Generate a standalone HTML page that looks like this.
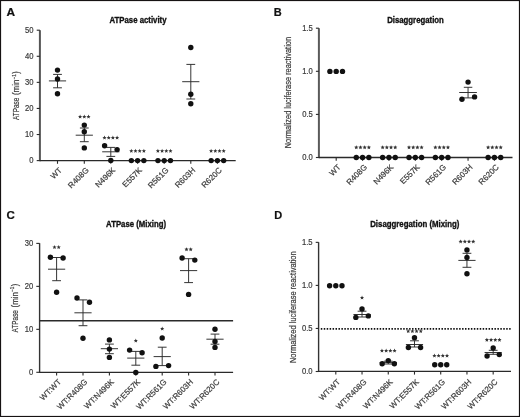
<!DOCTYPE html><html><head><meta charset="utf-8"><style>html,body{margin:0;padding:0;background:#fff;}svg{display:block;will-change:transform;}text{font-family:"Liberation Sans",sans-serif;}.g{fill:#3a3a3a;stroke:#3a3a3a;stroke-width:0.2;}</style></head><body>
<svg width="520" height="417" viewBox="0 0 520 417">
<rect x="0" y="0" width="520" height="417" fill="#fff"/>
<rect x="0.5" y="0.5" width="519" height="416" fill="none" stroke="#161213" stroke-width="1.2"/>
<text transform="translate(6.6,15.9) scale(1.08,1)" font-size="11" font-weight="bold" fill="#111" stroke="#111" stroke-width="0.2">A</text>
<text transform="translate(273.8,15.8) scale(1.0,1)" font-size="11" font-weight="bold" fill="#111" stroke="#111" stroke-width="0.2">B</text>
<text transform="translate(6.5,219.2) scale(1.05,1)" font-size="11" font-weight="bold" fill="#111" stroke="#111" stroke-width="0.2">C</text>
<text transform="translate(274.2,219.2) scale(1.0,1)" font-size="11" font-weight="bold" fill="#111" stroke="#111" stroke-width="0.2">D</text>
<text transform="translate(109.5,22.6) scale(1,1.12)" font-size="7.8" font-weight="bold" fill="#111" stroke="#111" stroke-width="0.3" textLength="57" lengthAdjust="spacingAndGlyphs">ATPase activity</text>
<text transform="translate(387.2,23.0) scale(1,1.12)" font-size="7.8" font-weight="bold" fill="#111" stroke="#111" stroke-width="0.3" textLength="56.6" lengthAdjust="spacingAndGlyphs">Disaggregation</text>
<text transform="translate(106.1,226.5) scale(1,1.12)" font-size="7.8" font-weight="bold" fill="#111" stroke="#111" stroke-width="0.3" textLength="60" lengthAdjust="spacingAndGlyphs">ATPase (Mixing)</text>
<text transform="translate(370.2,226.8) scale(1,1.12)" font-size="7.8" font-weight="bold" fill="#111" stroke="#111" stroke-width="0.3" textLength="89.2" lengthAdjust="spacingAndGlyphs">Disaggregation (Mixing)</text>
<text transform="translate(19.2,120.0) rotate(-90)" font-size="8.6" class="g" textLength="22.3" lengthAdjust="spacingAndGlyphs">ATPase</text><text transform="translate(19.2,95.1) rotate(-90)" font-size="8.6" class="g" textLength="15.4" lengthAdjust="spacingAndGlyphs">(min</text><text transform="translate(15.6,79.5) rotate(-90)" font-size="5.6" class="g" textLength="5.2" lengthAdjust="spacingAndGlyphs">−1</text><text transform="translate(19.2,73.8) rotate(-90)" font-size="8.6" class="g" textLength="2.4" lengthAdjust="spacingAndGlyphs">)</text>
<text transform="translate(18.0,332.4) rotate(-90)" font-size="8.6" class="g" textLength="22.3" lengthAdjust="spacingAndGlyphs">ATPase</text><text transform="translate(18.0,307.5) rotate(-90)" font-size="8.6" class="g" textLength="15.4" lengthAdjust="spacingAndGlyphs">(min</text><text transform="translate(14.4,291.9) rotate(-90)" font-size="5.6" class="g" textLength="5.2" lengthAdjust="spacingAndGlyphs">−1</text><text transform="translate(18.0,286.2) rotate(-90)" font-size="8.6" class="g" textLength="2.4" lengthAdjust="spacingAndGlyphs">)</text>
<text transform="translate(291.2,92.6) rotate(-90)" text-anchor="middle" font-size="8.4" class="g" textLength="111.3" lengthAdjust="spacingAndGlyphs">Normalized luciferase reactivation</text>
<text transform="translate(295.5,307.2) rotate(-90)" text-anchor="middle" font-size="8.4" class="g" textLength="111.7" lengthAdjust="spacingAndGlyphs">Normalized luciferase reactivation</text>
<line x1="39.9" y1="30.2" x2="39.9" y2="161.25" stroke="#555" stroke-width="2"/><line x1="39.9" y1="160.6" x2="235.7" y2="160.6" stroke="#2a2a2a" stroke-width="1.3"/><line x1="36.7" y1="160.6" x2="39.9" y2="160.6" stroke="#2a2a2a" stroke-width="1.1"/><text x="33.6" y="163.2" text-anchor="end" font-size="8.5" class="g" textLength="4.25" lengthAdjust="spacingAndGlyphs">0</text><line x1="36.7" y1="134.51999999999998" x2="39.9" y2="134.51999999999998" stroke="#2a2a2a" stroke-width="1.1"/><text x="33.6" y="137.11999999999998" text-anchor="end" font-size="8.5" class="g" textLength="8.51" lengthAdjust="spacingAndGlyphs">10</text><line x1="36.7" y1="108.44" x2="39.9" y2="108.44" stroke="#2a2a2a" stroke-width="1.1"/><text x="33.6" y="111.03999999999999" text-anchor="end" font-size="8.5" class="g" textLength="8.51" lengthAdjust="spacingAndGlyphs">20</text><line x1="36.7" y1="82.35999999999999" x2="39.9" y2="82.35999999999999" stroke="#2a2a2a" stroke-width="1.1"/><text x="33.6" y="84.95999999999998" text-anchor="end" font-size="8.5" class="g" textLength="8.51" lengthAdjust="spacingAndGlyphs">30</text><line x1="36.7" y1="56.27999999999999" x2="39.9" y2="56.27999999999999" stroke="#2a2a2a" stroke-width="1.1"/><text x="33.6" y="58.87999999999999" text-anchor="end" font-size="8.5" class="g" textLength="8.51" lengthAdjust="spacingAndGlyphs">40</text><line x1="36.7" y1="30.19999999999999" x2="39.9" y2="30.19999999999999" stroke="#2a2a2a" stroke-width="1.1"/><text x="33.6" y="32.79999999999999" text-anchor="end" font-size="8.5" class="g" textLength="8.51" lengthAdjust="spacingAndGlyphs">50</text><line x1="57.5" y1="160.6" x2="57.5" y2="163.79999999999998" stroke="#2a2a2a" stroke-width="1.1"/><text transform="translate(62.50,170.70) rotate(-45)" text-anchor="end" font-size="8.0" class="g">WT</text><line x1="84.3" y1="160.6" x2="84.3" y2="163.79999999999998" stroke="#2a2a2a" stroke-width="1.1"/><text transform="translate(89.30,170.70) rotate(-45)" text-anchor="end" font-size="8.0" class="g">R408G</text><line x1="110.8" y1="160.6" x2="110.8" y2="163.79999999999998" stroke="#2a2a2a" stroke-width="1.1"/><text transform="translate(115.80,170.70) rotate(-45)" text-anchor="end" font-size="8.0" class="g">N496K</text><line x1="137.6" y1="160.6" x2="137.6" y2="163.79999999999998" stroke="#2a2a2a" stroke-width="1.1"/><text transform="translate(142.60,170.70) rotate(-45)" text-anchor="end" font-size="8.0" class="g">E557K</text><line x1="164.2" y1="160.6" x2="164.2" y2="163.79999999999998" stroke="#2a2a2a" stroke-width="1.1"/><text transform="translate(169.20,170.70) rotate(-45)" text-anchor="end" font-size="8.0" class="g">R561G</text><line x1="190.8" y1="160.6" x2="190.8" y2="163.79999999999998" stroke="#2a2a2a" stroke-width="1.1"/><text transform="translate(195.80,170.70) rotate(-45)" text-anchor="end" font-size="8.0" class="g">R603H</text><line x1="217.4" y1="160.6" x2="217.4" y2="163.79999999999998" stroke="#2a2a2a" stroke-width="1.1"/><text transform="translate(222.40,170.70) rotate(-45)" text-anchor="end" font-size="8.0" class="g">R620C</text>
<line x1="318.9" y1="28.2" x2="318.9" y2="158.15" stroke="#5a5a5a" stroke-width="2"/><line x1="318.9" y1="157.5" x2="512.5" y2="157.5" stroke="#2a2a2a" stroke-width="1.3"/><line x1="315.9" y1="157.5" x2="318.9" y2="157.5" stroke="#2a2a2a" stroke-width="1.1"/><text x="312.8" y="160.1" text-anchor="end" font-size="8.5" class="g" textLength="10.63" lengthAdjust="spacingAndGlyphs">0.0</text><line x1="315.9" y1="114.4" x2="318.9" y2="114.4" stroke="#2a2a2a" stroke-width="1.1"/><text x="312.8" y="117.0" text-anchor="end" font-size="8.5" class="g" textLength="10.63" lengthAdjust="spacingAndGlyphs">0.5</text><line x1="315.9" y1="71.3" x2="318.9" y2="71.3" stroke="#2a2a2a" stroke-width="1.1"/><text x="312.8" y="73.89999999999999" text-anchor="end" font-size="8.5" class="g" textLength="10.63" lengthAdjust="spacingAndGlyphs">1.0</text><line x1="315.9" y1="28.19999999999999" x2="318.9" y2="28.19999999999999" stroke="#2a2a2a" stroke-width="1.1"/><text x="312.8" y="30.79999999999999" text-anchor="end" font-size="8.5" class="g" textLength="10.63" lengthAdjust="spacingAndGlyphs">1.5</text><line x1="336.2" y1="157.5" x2="336.2" y2="160.7" stroke="#2a2a2a" stroke-width="1.1"/><text transform="translate(341.20,167.60) rotate(-45)" text-anchor="end" font-size="8.0" class="g">WT</text><line x1="362.57" y1="157.5" x2="362.57" y2="160.7" stroke="#2a2a2a" stroke-width="1.1"/><text transform="translate(367.57,167.60) rotate(-45)" text-anchor="end" font-size="8.0" class="g">R408G</text><line x1="388.94" y1="157.5" x2="388.94" y2="160.7" stroke="#2a2a2a" stroke-width="1.1"/><text transform="translate(393.94,167.60) rotate(-45)" text-anchor="end" font-size="8.0" class="g">N496K</text><line x1="415.31" y1="157.5" x2="415.31" y2="160.7" stroke="#2a2a2a" stroke-width="1.1"/><text transform="translate(420.31,167.60) rotate(-45)" text-anchor="end" font-size="8.0" class="g">E557K</text><line x1="441.68" y1="157.5" x2="441.68" y2="160.7" stroke="#2a2a2a" stroke-width="1.1"/><text transform="translate(446.68,167.60) rotate(-45)" text-anchor="end" font-size="8.0" class="g">R561G</text><line x1="468.04999999999995" y1="157.5" x2="468.04999999999995" y2="160.7" stroke="#2a2a2a" stroke-width="1.1"/><text transform="translate(473.05,167.60) rotate(-45)" text-anchor="end" font-size="8.0" class="g">R603H</text><line x1="494.41999999999996" y1="157.5" x2="494.41999999999996" y2="160.7" stroke="#2a2a2a" stroke-width="1.1"/><text transform="translate(499.42,167.60) rotate(-45)" text-anchor="end" font-size="8.0" class="g">R620C</text>
<line x1="39.6" y1="243.2" x2="39.6" y2="372.95" stroke="#333" stroke-width="1.4"/><line x1="39.6" y1="372.3" x2="233.1" y2="372.3" stroke="#2a2a2a" stroke-width="1.3"/><line x1="36.300000000000004" y1="372.3" x2="39.6" y2="372.3" stroke="#2a2a2a" stroke-width="1.1"/><text x="33.2" y="374.90000000000003" text-anchor="end" font-size="8.5" class="g" textLength="4.25" lengthAdjust="spacingAndGlyphs">0</text><line x1="36.300000000000004" y1="329.33000000000004" x2="39.6" y2="329.33000000000004" stroke="#2a2a2a" stroke-width="1.1"/><text x="33.2" y="331.93000000000006" text-anchor="end" font-size="8.5" class="g" textLength="8.51" lengthAdjust="spacingAndGlyphs">10</text><line x1="36.300000000000004" y1="286.36" x2="39.6" y2="286.36" stroke="#2a2a2a" stroke-width="1.1"/><text x="33.2" y="288.96000000000004" text-anchor="end" font-size="8.5" class="g" textLength="8.51" lengthAdjust="spacingAndGlyphs">20</text><line x1="36.300000000000004" y1="243.39000000000001" x2="39.6" y2="243.39000000000001" stroke="#2a2a2a" stroke-width="1.1"/><text x="33.2" y="245.99" text-anchor="end" font-size="8.5" class="g" textLength="8.51" lengthAdjust="spacingAndGlyphs">30</text><line x1="56.6" y1="372.3" x2="56.6" y2="375.5" stroke="#2a2a2a" stroke-width="1.1"/><text transform="translate(61.60,382.40) rotate(-45)" text-anchor="end" font-size="8.0" class="g">WT:WT</text><line x1="83.0" y1="372.3" x2="83.0" y2="375.5" stroke="#2a2a2a" stroke-width="1.1"/><text transform="translate(88.00,382.40) rotate(-45)" text-anchor="end" font-size="8.0" class="g">WT:R408G</text><line x1="109.4" y1="372.3" x2="109.4" y2="375.5" stroke="#2a2a2a" stroke-width="1.1"/><text transform="translate(114.40,382.40) rotate(-45)" text-anchor="end" font-size="8.0" class="g">WT:N496K</text><line x1="135.79999999999998" y1="372.3" x2="135.79999999999998" y2="375.5" stroke="#2a2a2a" stroke-width="1.1"/><text transform="translate(140.80,382.40) rotate(-45)" text-anchor="end" font-size="8.0" class="g">WT:E557K</text><line x1="162.2" y1="372.3" x2="162.2" y2="375.5" stroke="#2a2a2a" stroke-width="1.1"/><text transform="translate(167.20,382.40) rotate(-45)" text-anchor="end" font-size="8.0" class="g">WT:R561G</text><line x1="188.6" y1="372.3" x2="188.6" y2="375.5" stroke="#2a2a2a" stroke-width="1.1"/><text transform="translate(193.60,382.40) rotate(-45)" text-anchor="end" font-size="8.0" class="g">WT:R603H</text><line x1="214.99999999999997" y1="372.3" x2="214.99999999999997" y2="375.5" stroke="#2a2a2a" stroke-width="1.1"/><text transform="translate(220.00,382.40) rotate(-45)" text-anchor="end" font-size="8.0" class="g">WT:R620C</text>
<line x1="318.6" y1="242.2" x2="318.6" y2="372.04999999999995" stroke="#333" stroke-width="1.4"/><line x1="318.6" y1="371.4" x2="511" y2="371.4" stroke="#2a2a2a" stroke-width="1.3"/><line x1="315.7" y1="371.5" x2="318.6" y2="371.5" stroke="#2a2a2a" stroke-width="1.1"/><text x="312.6" y="374.1" text-anchor="end" font-size="8.5" class="g" textLength="10.63" lengthAdjust="spacingAndGlyphs">0.0</text><line x1="315.7" y1="328.45" x2="318.6" y2="328.45" stroke="#2a2a2a" stroke-width="1.1"/><text x="312.6" y="331.05" text-anchor="end" font-size="8.5" class="g" textLength="10.63" lengthAdjust="spacingAndGlyphs">0.5</text><line x1="315.7" y1="285.4" x2="318.6" y2="285.4" stroke="#2a2a2a" stroke-width="1.1"/><text x="312.6" y="288.0" text-anchor="end" font-size="8.5" class="g" textLength="10.63" lengthAdjust="spacingAndGlyphs">1.0</text><line x1="315.7" y1="242.35000000000002" x2="318.6" y2="242.35000000000002" stroke="#2a2a2a" stroke-width="1.1"/><text x="312.6" y="244.95000000000002" text-anchor="end" font-size="8.5" class="g" textLength="10.63" lengthAdjust="spacingAndGlyphs">1.5</text><line x1="335.8" y1="371.4" x2="335.8" y2="374.59999999999997" stroke="#2a2a2a" stroke-width="1.1"/><text transform="translate(340.80,382.40) rotate(-45)" text-anchor="end" font-size="8.0" class="g">WT:WT</text><line x1="362.03000000000003" y1="371.4" x2="362.03000000000003" y2="374.59999999999997" stroke="#2a2a2a" stroke-width="1.1"/><text transform="translate(367.03,382.40) rotate(-45)" text-anchor="end" font-size="8.0" class="g">WT:R408G</text><line x1="388.26" y1="371.4" x2="388.26" y2="374.59999999999997" stroke="#2a2a2a" stroke-width="1.1"/><text transform="translate(393.26,382.40) rotate(-45)" text-anchor="end" font-size="8.0" class="g">WT:N496K</text><line x1="414.49" y1="371.4" x2="414.49" y2="374.59999999999997" stroke="#2a2a2a" stroke-width="1.1"/><text transform="translate(419.49,382.40) rotate(-45)" text-anchor="end" font-size="8.0" class="g">WT:E557K</text><line x1="440.72" y1="371.4" x2="440.72" y2="374.59999999999997" stroke="#2a2a2a" stroke-width="1.1"/><text transform="translate(445.72,382.40) rotate(-45)" text-anchor="end" font-size="8.0" class="g">WT:R561G</text><line x1="466.95000000000005" y1="371.4" x2="466.95000000000005" y2="374.59999999999997" stroke="#2a2a2a" stroke-width="1.1"/><text transform="translate(471.95,382.40) rotate(-45)" text-anchor="end" font-size="8.0" class="g">WT:R603H</text><line x1="493.18" y1="371.4" x2="493.18" y2="374.59999999999997" stroke="#2a2a2a" stroke-width="1.1"/><text transform="translate(498.18,382.40) rotate(-45)" text-anchor="end" font-size="8.0" class="g">WT:R620C</text>
<line x1="39.6" y1="320.7" x2="233.1" y2="320.7" stroke="#2a2a2a" stroke-width="1.4"/>
<line x1="320.8" y1="328.9" x2="510.7" y2="328.9" stroke="#111" stroke-width="1.6" stroke-dasharray="1.5 1.443"/>
<line x1="57.5" y1="74.4" x2="57.5" y2="87.8" stroke="#2a2a2a" stroke-width="0.95"/><line x1="53.1" y1="74.4" x2="61.9" y2="74.4" stroke="#2a2a2a" stroke-width="0.95"/><line x1="53.1" y1="87.8" x2="61.9" y2="87.8" stroke="#2a2a2a" stroke-width="0.95"/><line x1="48.9" y1="80.9" x2="66.1" y2="80.9" stroke="#2a2a2a" stroke-width="0.95"/>
<circle cx="57.5" cy="70.1" r="2.7" fill="#111"/><circle cx="57.5" cy="79" r="2.7" fill="#111"/><circle cx="57.5" cy="93.8" r="2.7" fill="#111"/>
<line x1="84.3" y1="128" x2="84.3" y2="141.7" stroke="#2a2a2a" stroke-width="0.95"/><line x1="79.89999999999999" y1="128" x2="88.7" y2="128" stroke="#2a2a2a" stroke-width="0.95"/><line x1="79.89999999999999" y1="141.7" x2="88.7" y2="141.7" stroke="#2a2a2a" stroke-width="0.95"/><line x1="75.7" y1="135.2" x2="92.89999999999999" y2="135.2" stroke="#2a2a2a" stroke-width="0.95"/>
<circle cx="84.3" cy="125.1" r="2.7" fill="#111"/><circle cx="84.3" cy="131.8" r="2.7" fill="#111"/><circle cx="84.3" cy="147.9" r="2.7" fill="#111"/>
<polygon points="80.10,114.60 80.68,116.00 82.19,116.12 81.04,117.11 81.39,118.58 80.10,117.79 78.81,118.58 79.16,117.11 78.01,116.12 79.52,116.00" fill="#333"/><polygon points="84.30,114.60 84.88,116.00 86.39,116.12 85.24,117.11 85.59,118.58 84.30,117.79 83.01,118.58 83.36,117.11 82.21,116.12 83.72,116.00" fill="#333"/><polygon points="88.50,114.60 89.08,116.00 90.59,116.12 89.44,117.11 89.79,118.58 88.50,117.79 87.21,118.58 87.56,117.11 86.41,116.12 87.92,116.00" fill="#333"/>
<line x1="110.8" y1="147.4" x2="110.8" y2="156.4" stroke="#2a2a2a" stroke-width="0.95"/><line x1="106.39999999999999" y1="147.4" x2="115.2" y2="147.4" stroke="#2a2a2a" stroke-width="0.95"/><line x1="106.39999999999999" y1="156.4" x2="115.2" y2="156.4" stroke="#2a2a2a" stroke-width="0.95"/><line x1="102.2" y1="151.8" x2="119.39999999999999" y2="151.8" stroke="#2a2a2a" stroke-width="0.95"/>
<circle cx="104.6" cy="145.7" r="2.7" fill="#111"/><circle cx="117.1" cy="149.6" r="2.7" fill="#111"/><circle cx="110.8" cy="160.4" r="2.7" fill="#111"/>
<polygon points="104.50,135.60 105.08,137.00 106.59,137.12 105.44,138.11 105.79,139.58 104.50,138.79 103.21,139.58 103.56,138.11 102.41,137.12 103.92,137.00" fill="#333"/><polygon points="108.70,135.60 109.28,137.00 110.79,137.12 109.64,138.11 109.99,139.58 108.70,138.79 107.41,139.58 107.76,138.11 106.61,137.12 108.12,137.00" fill="#333"/><polygon points="112.90,135.60 113.48,137.00 114.99,137.12 113.84,138.11 114.19,139.58 112.90,138.79 111.61,139.58 111.96,138.11 110.81,137.12 112.32,137.00" fill="#333"/><polygon points="117.10,135.60 117.68,137.00 119.19,137.12 118.04,138.11 118.39,139.58 117.10,138.79 115.81,139.58 116.16,138.11 115.01,137.12 116.52,137.00" fill="#333"/>
<circle cx="131.35" cy="160.6" r="2.7" fill="#111"/><circle cx="137.6" cy="160.6" r="2.7" fill="#111"/><circle cx="143.85" cy="160.6" r="2.7" fill="#111"/>
<polygon points="131.30,148.80 131.88,150.20 133.39,150.32 132.24,151.31 132.59,152.78 131.30,151.99 130.01,152.78 130.36,151.31 129.21,150.32 130.72,150.20" fill="#333"/><polygon points="135.50,148.80 136.08,150.20 137.59,150.32 136.44,151.31 136.79,152.78 135.50,151.99 134.21,152.78 134.56,151.31 133.41,150.32 134.92,150.20" fill="#333"/><polygon points="139.70,148.80 140.28,150.20 141.79,150.32 140.64,151.31 140.99,152.78 139.70,151.99 138.41,152.78 138.76,151.31 137.61,150.32 139.12,150.20" fill="#333"/><polygon points="143.90,148.80 144.48,150.20 145.99,150.32 144.84,151.31 145.19,152.78 143.90,151.99 142.61,152.78 142.96,151.31 141.81,150.32 143.32,150.20" fill="#333"/>
<circle cx="157.95" cy="160.6" r="2.7" fill="#111"/><circle cx="164.2" cy="160.6" r="2.7" fill="#111"/><circle cx="170.45" cy="160.6" r="2.7" fill="#111"/>
<polygon points="157.90,148.80 158.48,150.20 159.99,150.32 158.84,151.31 159.19,152.78 157.90,151.99 156.61,152.78 156.96,151.31 155.81,150.32 157.32,150.20" fill="#333"/><polygon points="162.10,148.80 162.68,150.20 164.19,150.32 163.04,151.31 163.39,152.78 162.10,151.99 160.81,152.78 161.16,151.31 160.01,150.32 161.52,150.20" fill="#333"/><polygon points="166.30,148.80 166.88,150.20 168.39,150.32 167.24,151.31 167.59,152.78 166.30,151.99 165.01,152.78 165.36,151.31 164.21,150.32 165.72,150.20" fill="#333"/><polygon points="170.50,148.80 171.08,150.20 172.59,150.32 171.44,151.31 171.79,152.78 170.50,151.99 169.21,152.78 169.56,151.31 168.41,150.32 169.92,150.20" fill="#333"/>
<circle cx="211.15" cy="160.6" r="2.7" fill="#111"/><circle cx="217.4" cy="160.6" r="2.7" fill="#111"/><circle cx="223.65" cy="160.6" r="2.7" fill="#111"/>
<polygon points="211.10,148.80 211.68,150.20 213.19,150.32 212.04,151.31 212.39,152.78 211.10,151.99 209.81,152.78 210.16,151.31 209.01,150.32 210.52,150.20" fill="#333"/><polygon points="215.30,148.80 215.88,150.20 217.39,150.32 216.24,151.31 216.59,152.78 215.30,151.99 214.01,152.78 214.36,151.31 213.21,150.32 214.72,150.20" fill="#333"/><polygon points="219.50,148.80 220.08,150.20 221.59,150.32 220.44,151.31 220.79,152.78 219.50,151.99 218.21,152.78 218.56,151.31 217.41,150.32 218.92,150.20" fill="#333"/><polygon points="223.70,148.80 224.28,150.20 225.79,150.32 224.64,151.31 224.99,152.78 223.70,151.99 222.41,152.78 222.76,151.31 221.61,150.32 223.12,150.20" fill="#333"/>
<line x1="190.8" y1="64.4" x2="190.8" y2="99" stroke="#2a2a2a" stroke-width="0.95"/><line x1="186.4" y1="64.4" x2="195.20000000000002" y2="64.4" stroke="#2a2a2a" stroke-width="0.95"/><line x1="186.4" y1="99" x2="195.20000000000002" y2="99" stroke="#2a2a2a" stroke-width="0.95"/><line x1="182.20000000000002" y1="81.7" x2="199.4" y2="81.7" stroke="#2a2a2a" stroke-width="0.95"/>
<circle cx="190.8" cy="47.5" r="2.7" fill="#111"/><circle cx="190.8" cy="94.2" r="2.7" fill="#111"/><circle cx="190.8" cy="103.8" r="2.7" fill="#111"/>
<circle cx="329.9" cy="71.4" r="2.7" fill="#111"/><circle cx="336.2" cy="71.4" r="2.7" fill="#111"/><circle cx="342.5" cy="71.4" r="2.7" fill="#111"/>
<circle cx="356.27" cy="157.5" r="2.7" fill="#111"/><circle cx="362.57" cy="157.5" r="2.7" fill="#111"/><circle cx="368.87" cy="157.5" r="2.7" fill="#111"/>
<polygon points="356.27,145.20 356.85,146.60 358.36,146.72 357.21,147.71 357.56,149.18 356.27,148.39 354.98,149.18 355.33,147.71 354.18,146.72 355.69,146.60" fill="#333"/><polygon points="360.47,145.20 361.05,146.60 362.56,146.72 361.41,147.71 361.76,149.18 360.47,148.39 359.18,149.18 359.53,147.71 358.38,146.72 359.89,146.60" fill="#333"/><polygon points="364.67,145.20 365.25,146.60 366.76,146.72 365.61,147.71 365.96,149.18 364.67,148.39 363.38,149.18 363.73,147.71 362.58,146.72 364.09,146.60" fill="#333"/><polygon points="368.87,145.20 369.45,146.60 370.96,146.72 369.81,147.71 370.16,149.18 368.87,148.39 367.58,149.18 367.93,147.71 366.78,146.72 368.29,146.60" fill="#333"/>
<circle cx="382.64" cy="157.5" r="2.7" fill="#111"/><circle cx="388.94" cy="157.5" r="2.7" fill="#111"/><circle cx="395.24" cy="157.5" r="2.7" fill="#111"/>
<polygon points="382.64,145.20 383.22,146.60 384.73,146.72 383.58,147.71 383.93,149.18 382.64,148.39 381.35,149.18 381.70,147.71 380.55,146.72 382.06,146.60" fill="#333"/><polygon points="386.84,145.20 387.42,146.60 388.93,146.72 387.78,147.71 388.13,149.18 386.84,148.39 385.55,149.18 385.90,147.71 384.75,146.72 386.26,146.60" fill="#333"/><polygon points="391.04,145.20 391.62,146.60 393.13,146.72 391.98,147.71 392.33,149.18 391.04,148.39 389.75,149.18 390.10,147.71 388.95,146.72 390.46,146.60" fill="#333"/><polygon points="395.24,145.20 395.82,146.60 397.33,146.72 396.18,147.71 396.53,149.18 395.24,148.39 393.95,149.18 394.30,147.71 393.15,146.72 394.66,146.60" fill="#333"/>
<circle cx="409.01" cy="157.5" r="2.7" fill="#111"/><circle cx="415.31" cy="157.5" r="2.7" fill="#111"/><circle cx="421.61" cy="157.5" r="2.7" fill="#111"/>
<polygon points="409.01,145.20 409.59,146.60 411.10,146.72 409.95,147.71 410.30,149.18 409.01,148.39 407.72,149.18 408.07,147.71 406.92,146.72 408.43,146.60" fill="#333"/><polygon points="413.21,145.20 413.79,146.60 415.30,146.72 414.15,147.71 414.50,149.18 413.21,148.39 411.92,149.18 412.27,147.71 411.12,146.72 412.63,146.60" fill="#333"/><polygon points="417.41,145.20 417.99,146.60 419.50,146.72 418.35,147.71 418.70,149.18 417.41,148.39 416.12,149.18 416.47,147.71 415.32,146.72 416.83,146.60" fill="#333"/><polygon points="421.61,145.20 422.19,146.60 423.70,146.72 422.55,147.71 422.90,149.18 421.61,148.39 420.32,149.18 420.67,147.71 419.52,146.72 421.03,146.60" fill="#333"/>
<circle cx="435.38" cy="157.5" r="2.7" fill="#111"/><circle cx="441.68" cy="157.5" r="2.7" fill="#111"/><circle cx="447.98" cy="157.5" r="2.7" fill="#111"/>
<polygon points="435.38,145.20 435.96,146.60 437.47,146.72 436.32,147.71 436.67,149.18 435.38,148.39 434.09,149.18 434.44,147.71 433.29,146.72 434.80,146.60" fill="#333"/><polygon points="439.58,145.20 440.16,146.60 441.67,146.72 440.52,147.71 440.87,149.18 439.58,148.39 438.29,149.18 438.64,147.71 437.49,146.72 439.00,146.60" fill="#333"/><polygon points="443.78,145.20 444.36,146.60 445.87,146.72 444.72,147.71 445.07,149.18 443.78,148.39 442.49,149.18 442.84,147.71 441.69,146.72 443.20,146.60" fill="#333"/><polygon points="447.98,145.20 448.56,146.60 450.07,146.72 448.92,147.71 449.27,149.18 447.98,148.39 446.69,149.18 447.04,147.71 445.89,146.72 447.40,146.60" fill="#333"/>
<circle cx="488.11999999999995" cy="157.5" r="2.7" fill="#111"/><circle cx="494.41999999999996" cy="157.5" r="2.7" fill="#111"/><circle cx="500.71999999999997" cy="157.5" r="2.7" fill="#111"/>
<polygon points="488.12,145.20 488.70,146.60 490.21,146.72 489.06,147.71 489.41,149.18 488.12,148.39 486.83,149.18 487.18,147.71 486.03,146.72 487.54,146.60" fill="#333"/><polygon points="492.32,145.20 492.90,146.60 494.41,146.72 493.26,147.71 493.61,149.18 492.32,148.39 491.03,149.18 491.38,147.71 490.23,146.72 491.74,146.60" fill="#333"/><polygon points="496.52,145.20 497.10,146.60 498.61,146.72 497.46,147.71 497.81,149.18 496.52,148.39 495.23,149.18 495.58,147.71 494.43,146.72 495.94,146.60" fill="#333"/><polygon points="500.72,145.20 501.30,146.60 502.81,146.72 501.66,147.71 502.01,149.18 500.72,148.39 499.43,149.18 499.78,147.71 498.63,146.72 500.14,146.60" fill="#333"/>
<line x1="468.04999999999995" y1="87.3" x2="468.04999999999995" y2="97.9" stroke="#2a2a2a" stroke-width="0.95"/><line x1="463.79999999999995" y1="87.3" x2="472.29999999999995" y2="87.3" stroke="#2a2a2a" stroke-width="0.95"/><line x1="463.79999999999995" y1="97.9" x2="472.29999999999995" y2="97.9" stroke="#2a2a2a" stroke-width="0.95"/><line x1="459.19999999999993" y1="92.5" x2="476.9" y2="92.5" stroke="#2a2a2a" stroke-width="0.95"/>
<circle cx="468.04999999999995" cy="82.1" r="2.7" fill="#111"/><circle cx="461.94999999999993" cy="99.2" r="2.7" fill="#111"/><circle cx="474.54999999999995" cy="96.9" r="2.7" fill="#111"/>
<line x1="56.6" y1="257.5" x2="56.6" y2="280.7" stroke="#2a2a2a" stroke-width="0.95"/><line x1="52.2" y1="257.5" x2="61.0" y2="257.5" stroke="#2a2a2a" stroke-width="0.95"/><line x1="52.2" y1="280.7" x2="61.0" y2="280.7" stroke="#2a2a2a" stroke-width="0.95"/><line x1="48.0" y1="269.2" x2="65.2" y2="269.2" stroke="#2a2a2a" stroke-width="0.95"/>
<circle cx="50.4" cy="257.2" r="2.7" fill="#111"/><circle cx="63.1" cy="258" r="2.7" fill="#111"/><circle cx="56.6" cy="292.2" r="2.7" fill="#111"/>
<polygon points="54.50,245.00 55.08,246.40 56.59,246.52 55.44,247.51 55.79,248.98 54.50,248.19 53.21,248.98 53.56,247.51 52.41,246.52 53.92,246.40" fill="#333"/><polygon points="58.70,245.00 59.28,246.40 60.79,246.52 59.64,247.51 59.99,248.98 58.70,248.19 57.41,248.98 57.76,247.51 56.61,246.52 58.12,246.40" fill="#333"/>
<line x1="83.0" y1="299.9" x2="83.0" y2="325.7" stroke="#2a2a2a" stroke-width="0.95"/><line x1="78.6" y1="299.9" x2="87.4" y2="299.9" stroke="#2a2a2a" stroke-width="0.95"/><line x1="78.6" y1="325.7" x2="87.4" y2="325.7" stroke="#2a2a2a" stroke-width="0.95"/><line x1="74.4" y1="312.8" x2="91.6" y2="312.8" stroke="#2a2a2a" stroke-width="0.95"/>
<circle cx="77.0" cy="298" r="2.7" fill="#111"/><circle cx="89.5" cy="302.3" r="2.7" fill="#111"/><circle cx="83.0" cy="338.2" r="2.7" fill="#111"/>
<line x1="109.4" y1="344.1" x2="109.4" y2="353.7" stroke="#2a2a2a" stroke-width="0.95"/><line x1="105.0" y1="344.1" x2="113.80000000000001" y2="344.1" stroke="#2a2a2a" stroke-width="0.95"/><line x1="105.0" y1="353.7" x2="113.80000000000001" y2="353.7" stroke="#2a2a2a" stroke-width="0.95"/><line x1="100.80000000000001" y1="348.7" x2="118.0" y2="348.7" stroke="#2a2a2a" stroke-width="0.95"/>
<circle cx="109.4" cy="339.9" r="2.7" fill="#111"/><circle cx="109.4" cy="349.1" r="2.7" fill="#111"/><circle cx="109.4" cy="357.4" r="2.7" fill="#111"/>
<line x1="135.79999999999998" y1="351.4" x2="135.79999999999998" y2="365.2" stroke="#2a2a2a" stroke-width="0.95"/><line x1="131.39999999999998" y1="351.4" x2="140.2" y2="351.4" stroke="#2a2a2a" stroke-width="0.95"/><line x1="131.39999999999998" y1="365.2" x2="140.2" y2="365.2" stroke="#2a2a2a" stroke-width="0.95"/><line x1="127.19999999999999" y1="358.1" x2="144.39999999999998" y2="358.1" stroke="#2a2a2a" stroke-width="0.95"/>
<circle cx="129.6" cy="350.1" r="2.7" fill="#111"/><circle cx="142.1" cy="352.8" r="2.7" fill="#111"/><circle cx="135.79999999999998" cy="372.5" r="2.7" fill="#111"/>
<polygon points="135.80,338.50 136.38,339.90 137.89,340.02 136.74,341.01 137.09,342.48 135.80,341.69 134.51,342.48 134.86,341.01 133.71,340.02 135.22,339.90" fill="#333"/>
<line x1="162.2" y1="347.2" x2="162.2" y2="365.6" stroke="#2a2a2a" stroke-width="0.95"/><line x1="157.79999999999998" y1="347.2" x2="166.6" y2="347.2" stroke="#2a2a2a" stroke-width="0.95"/><line x1="157.79999999999998" y1="365.6" x2="166.6" y2="365.6" stroke="#2a2a2a" stroke-width="0.95"/><line x1="153.6" y1="356.6" x2="170.79999999999998" y2="356.6" stroke="#2a2a2a" stroke-width="0.95"/>
<circle cx="162.2" cy="338" r="2.7" fill="#111"/><circle cx="155.89999999999998" cy="366.4" r="2.7" fill="#111"/><circle cx="168.6" cy="365.6" r="2.7" fill="#111"/>
<polygon points="162.20,326.60 162.78,328.00 164.29,328.12 163.14,329.11 163.49,330.58 162.20,329.79 160.91,330.58 161.26,329.11 160.11,328.12 161.62,328.00" fill="#333"/>
<line x1="188.6" y1="258.7" x2="188.6" y2="282.6" stroke="#2a2a2a" stroke-width="0.95"/><line x1="184.2" y1="258.7" x2="193.0" y2="258.7" stroke="#2a2a2a" stroke-width="0.95"/><line x1="184.2" y1="282.6" x2="193.0" y2="282.6" stroke="#2a2a2a" stroke-width="0.95"/><line x1="180.0" y1="270.6" x2="197.2" y2="270.6" stroke="#2a2a2a" stroke-width="0.95"/>
<circle cx="182.1" cy="258" r="2.7" fill="#111"/><circle cx="194.79999999999998" cy="260.1" r="2.7" fill="#111"/><circle cx="188.6" cy="294.4" r="2.7" fill="#111"/>
<polygon points="186.50,247.20 187.08,248.60 188.59,248.72 187.44,249.71 187.79,251.18 186.50,250.39 185.21,251.18 185.56,249.71 184.41,248.72 185.92,248.60" fill="#333"/><polygon points="190.70,247.20 191.28,248.60 192.79,248.72 191.64,249.71 191.99,251.18 190.70,250.39 189.41,251.18 189.76,249.71 188.61,248.72 190.12,248.60" fill="#333"/>
<line x1="214.99999999999997" y1="334.1" x2="214.99999999999997" y2="344.2" stroke="#2a2a2a" stroke-width="0.95"/><line x1="210.59999999999997" y1="334.1" x2="219.39999999999998" y2="334.1" stroke="#2a2a2a" stroke-width="0.95"/><line x1="210.59999999999997" y1="344.2" x2="219.39999999999998" y2="344.2" stroke="#2a2a2a" stroke-width="0.95"/><line x1="206.39999999999998" y1="339.2" x2="223.59999999999997" y2="339.2" stroke="#2a2a2a" stroke-width="0.95"/>
<circle cx="214.99999999999997" cy="329.3" r="2.7" fill="#111"/><circle cx="214.99999999999997" cy="341.5" r="2.7" fill="#111"/><circle cx="214.99999999999997" cy="347.4" r="2.7" fill="#111"/>
<circle cx="329.6" cy="285.7" r="2.7" fill="#111"/><circle cx="335.8" cy="285.7" r="2.7" fill="#111"/><circle cx="342.0" cy="285.7" r="2.7" fill="#111"/>
<line x1="362.03000000000003" y1="311.2" x2="362.03000000000003" y2="317" stroke="#2a2a2a" stroke-width="0.95"/><line x1="357.63000000000005" y1="311.2" x2="366.43" y2="311.2" stroke="#2a2a2a" stroke-width="0.95"/><line x1="357.63000000000005" y1="317" x2="366.43" y2="317" stroke="#2a2a2a" stroke-width="0.95"/><line x1="353.43" y1="314.5" x2="370.63000000000005" y2="314.5" stroke="#2a2a2a" stroke-width="0.95"/>
<circle cx="362.03000000000003" cy="308.9" r="2.7" fill="#111"/><circle cx="355.83000000000004" cy="317.4" r="2.7" fill="#111"/><circle cx="368.33000000000004" cy="315.9" r="2.7" fill="#111"/>
<polygon points="362.03,295.60 362.61,297.00 364.12,297.12 362.97,298.11 363.32,299.58 362.03,298.79 360.74,299.58 361.09,298.11 359.94,297.12 361.45,297.00" fill="#333"/>
<line x1="388.26" y1="361.2" x2="388.26" y2="364" stroke="#2a2a2a" stroke-width="0.95"/><line x1="383.86" y1="361.2" x2="392.65999999999997" y2="361.2" stroke="#2a2a2a" stroke-width="0.95"/><line x1="383.86" y1="364" x2="392.65999999999997" y2="364" stroke="#2a2a2a" stroke-width="0.95"/><line x1="379.65999999999997" y1="362.6" x2="396.86" y2="362.6" stroke="#2a2a2a" stroke-width="0.95"/>
<circle cx="382.15999999999997" cy="363.8" r="2.7" fill="#111"/><circle cx="388.26" cy="360.6" r="2.7" fill="#111"/><circle cx="394.36" cy="363.8" r="2.7" fill="#111"/>
<polygon points="381.96,348.60 382.54,350.00 384.05,350.12 382.90,351.11 383.25,352.58 381.96,351.79 380.67,352.58 381.02,351.11 379.87,350.12 381.38,350.00" fill="#333"/><polygon points="386.16,348.60 386.74,350.00 388.25,350.12 387.10,351.11 387.45,352.58 386.16,351.79 384.87,352.58 385.22,351.11 384.07,350.12 385.58,350.00" fill="#333"/><polygon points="390.36,348.60 390.94,350.00 392.45,350.12 391.30,351.11 391.65,352.58 390.36,351.79 389.07,352.58 389.42,351.11 388.27,350.12 389.78,350.00" fill="#333"/><polygon points="394.56,348.60 395.14,350.00 396.65,350.12 395.50,351.11 395.85,352.58 394.56,351.79 393.27,352.58 393.62,351.11 392.47,350.12 393.98,350.00" fill="#333"/>
<line x1="414.49" y1="340.8" x2="414.49" y2="347" stroke="#2a2a2a" stroke-width="0.95"/><line x1="410.09000000000003" y1="340.8" x2="418.89" y2="340.8" stroke="#2a2a2a" stroke-width="0.95"/><line x1="410.09000000000003" y1="347" x2="418.89" y2="347" stroke="#2a2a2a" stroke-width="0.95"/><line x1="405.89" y1="344.5" x2="423.09000000000003" y2="344.5" stroke="#2a2a2a" stroke-width="0.95"/>
<circle cx="414.49" cy="337.8" r="2.7" fill="#111"/><circle cx="408.39" cy="347.5" r="2.7" fill="#111"/><circle cx="420.59000000000003" cy="347.5" r="2.7" fill="#111"/>
<polygon points="408.19,329.00 408.77,330.40 410.28,330.52 409.13,331.51 409.48,332.98 408.19,332.19 406.90,332.98 407.25,331.51 406.10,330.52 407.61,330.40" fill="#333"/><polygon points="412.39,329.00 412.97,330.40 414.48,330.52 413.33,331.51 413.68,332.98 412.39,332.19 411.10,332.98 411.45,331.51 410.30,330.52 411.81,330.40" fill="#333"/><polygon points="416.59,329.00 417.17,330.40 418.68,330.52 417.53,331.51 417.88,332.98 416.59,332.19 415.30,332.98 415.65,331.51 414.50,330.52 416.01,330.40" fill="#333"/><polygon points="420.79,329.00 421.37,330.40 422.88,330.52 421.73,331.51 422.08,332.98 420.79,332.19 419.50,332.98 419.85,331.51 418.70,330.52 420.21,330.40" fill="#333"/>
<circle cx="434.72" cy="364.7" r="2.7" fill="#111"/><circle cx="440.72" cy="364.7" r="2.7" fill="#111"/><circle cx="446.72" cy="364.7" r="2.7" fill="#111"/>
<polygon points="434.42,353.60 435.00,355.00 436.51,355.12 435.36,356.11 435.71,357.58 434.42,356.79 433.13,357.58 433.48,356.11 432.33,355.12 433.84,355.00" fill="#333"/><polygon points="438.62,353.60 439.20,355.00 440.71,355.12 439.56,356.11 439.91,357.58 438.62,356.79 437.33,357.58 437.68,356.11 436.53,355.12 438.04,355.00" fill="#333"/><polygon points="442.82,353.60 443.40,355.00 444.91,355.12 443.76,356.11 444.11,357.58 442.82,356.79 441.53,357.58 441.88,356.11 440.73,355.12 442.24,355.00" fill="#333"/><polygon points="447.02,353.60 447.60,355.00 449.11,355.12 447.96,356.11 448.31,357.58 447.02,356.79 445.73,357.58 446.08,356.11 444.93,355.12 446.44,355.00" fill="#333"/>
<line x1="466.95000000000005" y1="253.3" x2="466.95000000000005" y2="267.3" stroke="#2a2a2a" stroke-width="0.95"/><line x1="462.55000000000007" y1="253.3" x2="471.35" y2="253.3" stroke="#2a2a2a" stroke-width="0.95"/><line x1="462.55000000000007" y1="267.3" x2="471.35" y2="267.3" stroke="#2a2a2a" stroke-width="0.95"/><line x1="458.35" y1="260.4" x2="475.55000000000007" y2="260.4" stroke="#2a2a2a" stroke-width="0.95"/>
<circle cx="466.95000000000005" cy="250" r="2.7" fill="#111"/><circle cx="466.95000000000005" cy="257.5" r="2.7" fill="#111"/><circle cx="466.95000000000005" cy="273.7" r="2.7" fill="#111"/>
<polygon points="460.65,239.40 461.23,240.80 462.74,240.92 461.59,241.91 461.94,243.38 460.65,242.59 459.36,243.38 459.71,241.91 458.56,240.92 460.07,240.80" fill="#333"/><polygon points="464.85,239.40 465.43,240.80 466.94,240.92 465.79,241.91 466.14,243.38 464.85,242.59 463.56,243.38 463.91,241.91 462.76,240.92 464.27,240.80" fill="#333"/><polygon points="469.05,239.40 469.63,240.80 471.14,240.92 469.99,241.91 470.34,243.38 469.05,242.59 467.76,243.38 468.11,241.91 466.96,240.92 468.47,240.80" fill="#333"/><polygon points="473.25,239.40 473.83,240.80 475.34,240.92 474.19,241.91 474.54,243.38 473.25,242.59 471.96,243.38 472.31,241.91 471.16,240.92 472.67,240.80" fill="#333"/>
<line x1="493.18" y1="350.3" x2="493.18" y2="354.3" stroke="#2a2a2a" stroke-width="0.95"/><line x1="488.78000000000003" y1="350.3" x2="497.58" y2="350.3" stroke="#2a2a2a" stroke-width="0.95"/><line x1="488.78000000000003" y1="354.3" x2="497.58" y2="354.3" stroke="#2a2a2a" stroke-width="0.95"/><line x1="484.58" y1="352.5" x2="501.78000000000003" y2="352.5" stroke="#2a2a2a" stroke-width="0.95"/>
<circle cx="493.18" cy="348" r="2.7" fill="#111"/><circle cx="487.08" cy="356" r="2.7" fill="#111"/><circle cx="499.28000000000003" cy="354.6" r="2.7" fill="#111"/>
<polygon points="486.88,337.70 487.46,339.10 488.97,339.22 487.82,340.21 488.17,341.68 486.88,340.89 485.59,341.68 485.94,340.21 484.79,339.22 486.30,339.10" fill="#333"/><polygon points="491.08,337.70 491.66,339.10 493.17,339.22 492.02,340.21 492.37,341.68 491.08,340.89 489.79,341.68 490.14,340.21 488.99,339.22 490.50,339.10" fill="#333"/><polygon points="495.28,337.70 495.86,339.10 497.37,339.22 496.22,340.21 496.57,341.68 495.28,340.89 493.99,341.68 494.34,340.21 493.19,339.22 494.70,339.10" fill="#333"/><polygon points="499.48,337.70 500.06,339.10 501.57,339.22 500.42,340.21 500.77,341.68 499.48,340.89 498.19,341.68 498.54,340.21 497.39,339.22 498.90,339.10" fill="#333"/>
</svg></body></html>
